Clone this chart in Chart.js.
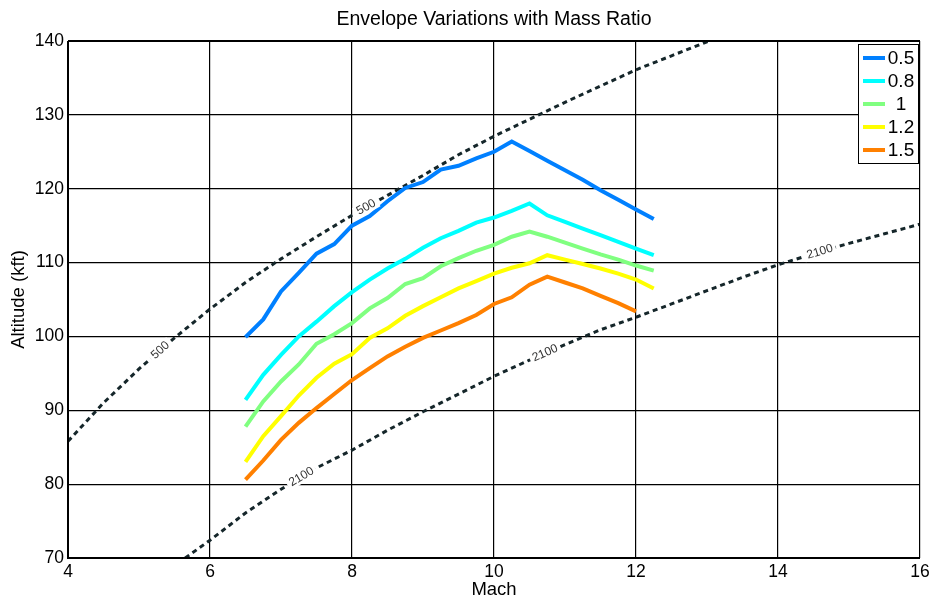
<!DOCTYPE html>
<html><head><meta charset="utf-8">
<script src="https://cdn.jsdelivr.net/npm/chart.js@4/dist/chart.umd.min.js"></script>
<style>html,body{margin:0;padding:0;background:#fff;}#wrap{width:935px;height:602px;}</style>
</head><body><div id="wrap"><canvas id="c" width="935" height="602"></canvas></div>
<script>
// ---- data ----
const machs = [6.5,6.75,7,7.25,7.5,7.75,8,8.25,8.5,8.75,9,9.25,9.5,9.75,10,10.25,10.5,10.75,11,11.25,11.5,11.75,12,12.25];
const alt05 = [99.9,102.3,106.1,108.6,111.2,112.5,115.0,116.3,118.3,120.1,120.9,122.6,123.1,124.1,125.0,126.4,125.1,123.8,122.5,121.2,119.8,118.5,117.2,115.9];
const alt08 = [91.4,94.8,97.5,100.0,102.0,104.1,106.0,107.7,109.2,110.5,112.0,113.3,114.3,115.4,116.1,117.0,118.0,116.4,115.5,114.6,113.7,112.8,111.9,111.0];
const alt10 = [87.8,91.2,93.9,96.2,99.0,100.3,101.8,103.8,105.2,107.1,107.9,109.5,110.6,111.6,112.4,113.5,114.2,113.5,112.7,111.9,111.1,110.4,109.6,108.9];
const alt12 = [83.0,86.5,89.2,92.0,94.4,96.3,97.6,99.8,101.1,102.8,104.1,105.3,106.5,107.5,108.5,109.3,109.9,111.0,110.4,109.8,109.2,108.5,107.7,106.5];
const alt15 = [80.6,83.2,86.0,88.3,90.3,92.2,94.1,95.7,97.3,98.6,99.8,100.8,101.8,102.9,104.4,105.3,107.0,108.1,107.3,106.5,105.5,104.5,103.4,null];
const massRatios = ['0.5','0.8','1','1.2','1.5'];
const seriesColors = ['rgb(0,128,255)','rgb(0,255,255)','rgb(128,255,128)','rgb(255,255,0)','rgb(255,128,0)'];

const c500Mach = [4,4.5,5,5.5,6,6.5,7,7.5,8,8.5,9,9.5,10,10.5,11,11.5,12,12.5,13,13.05];
const c500Alt  = [85.8,91.0,95.6,99.8,103.7,107.3,110.5,113.5,116.4,119.1,121.8,124.6,127.1,129.4,131.7,133.9,136.1,138.0,139.9,140.0];
const c2100Mach = [5.65,6,6.5,7,7.5,8,8.5,9,9.5,10,10.5,11,11.5,12,12.5,13,13.5,14,14.5,15,15.5,16];
const c2100Alt  = [70,72.4,76.1,79.3,82.2,84.6,87.3,89.8,92.2,94.6,96.8,98.9,100.9,102.6,104.4,106.2,108.0,109.7,111.2,112.6,113.9,115.2];
const contourLevels = ['500','2100'];
const label500Mach = [5.3, 8.2];
const label2100Mach = [7.29, 10.72, 14.59];

const xTicks = [4,6,8,10,12,14,16];
const yTicks = [70,80,90,100,110,120,130,140];

// ---- helpers ----
const pts = (xs, ys) => xs.map((x,i)=>({x, y: ys[i]}));
function interp(xs, ys, x){
  for(let i=0;i<xs.length-1;i++){
    if(x>=xs[i] && x<=xs[i+1]){const t=(x-xs[i])/(xs[i+1]-xs[i]);return ys[i]+t*(ys[i+1]-ys[i]);}
  }
  return ys[ys.length-1];
}
const FONT = "'Liberation Sans', Arial, sans-serif";
const allSeries = [alt05, alt08, alt10, alt12, alt15];

const datasets = allSeries.map((a,i)=>({
  label: massRatios[i], data: pts(machs, a), borderColor: seriesColors[i],
  borderWidth: 4, pointRadius: 0, fill: false, tension: 0, spanGaps: false
}));
const contourStyle = {borderColor:'#15262a', borderWidth:3, borderDash:[5,4], pointRadius:0, fill:false, tension:0};
datasets.push(Object.assign({label: contourLevels[0], data: pts(c500Mach, c500Alt)}, contourStyle));
datasets.push(Object.assign({label: contourLevels[1], data: pts(c2100Mach, c2100Alt)}, contourStyle));

const decor = {
  id: 'decor',
  afterDatasetsDraw(chart){
    const ctx = chart.ctx, xs = chart.scales.x, ys = chart.scales.y;
    ctx.save();
    const ca = chart.chartArea;
    ctx.beginPath(); ctx.rect(ca.left, ca.top, ca.right-ca.left, ca.bottom-ca.top); ctx.clip();
    const drawLabels = (mList, cx, cy, txt) => {
      mList.forEach(m=>{
        const px = xs.getPixelForValue(m), py = ys.getPixelForValue(interp(cx, cy, m));
        const p1x = xs.getPixelForValue(m-0.2), p1y = ys.getPixelForValue(interp(cx, cy, m-0.2));
        const p2x = xs.getPixelForValue(m+0.2), p2y = ys.getPixelForValue(interp(cx, cy, m+0.2));
        const ang = Math.atan2(p2y-p1y, p2x-p1x);
        ctx.save();
        ctx.translate(px, py); ctx.rotate(ang);
        ctx.font = '12px ' + FONT;
        const w = ctx.measureText(txt).width;
        ctx.fillStyle = '#fff';
        ctx.fillRect(-w/2-3, -6, w+6, 12);
        ctx.fillStyle = '#333';
        ctx.textAlign = 'center'; ctx.textBaseline = 'middle';
        ctx.fillText(txt, 0, 0);
        ctx.restore();
      });
    };
    drawLabels(label500Mach, c500Mach, c500Alt, contourLevels[0]);
    drawLabels(label2100Mach, c2100Mach, c2100Alt, contourLevels[1]);
    ctx.restore();
  },
  afterDraw(chart){
    const ctx = chart.ctx, ca = chart.chartArea;
    ctx.save();
    // frame
    ctx.strokeStyle = '#000'; ctx.lineWidth = 1;
    ctx.strokeRect(ca.left+0.5, ca.top+0.5, ca.right-ca.left-1, ca.bottom-ca.top);
    ctx.lineWidth = 2;
    ctx.beginPath(); ctx.moveTo(ca.left, ca.top); ctx.lineTo(ca.left, ca.bottom); ctx.lineTo(ca.right, ca.bottom); ctx.stroke();
    // title
    ctx.fillStyle = '#000'; ctx.font = '19.5px ' + FONT; ctx.textAlign = 'center'; ctx.textBaseline = 'alphabetic';
    ctx.fillText('Envelope Variations with Mass Ratio', (ca.left+ca.right)/2, 25);
    // legend
    const bx = ca.right - 62, by = ca.top + 3, bw = 60, bh = 119;
    ctx.fillStyle = '#fff'; ctx.fillRect(bx, by, bw, bh);
    ctx.strokeStyle = '#000'; ctx.lineWidth = 1; ctx.strokeRect(bx+0.5, by+0.5, bw, bh);
    ctx.font = '19px ' + FONT; ctx.textBaseline = 'middle'; ctx.textAlign = 'center';
    massRatios.forEach((lab,i)=>{
      const y = by + 14 + i*23;
      ctx.strokeStyle = seriesColors[i]; ctx.lineWidth = 4;
      ctx.beginPath(); ctx.moveTo(bx+5, y); ctx.lineTo(bx+27, y); ctx.stroke();
      ctx.fillStyle = '#000'; ctx.fillText(lab, bx+43, y+1);
    });
    ctx.restore();
  }
};

new Chart(document.getElementById('c'), {
  type: 'line',
  data: { datasets },
  options: {
    responsive: false, animation: false, events: [],
    layout: { padding: { top: 41, right: 15, left: 0, bottom: 0 } },
    plugins: { legend: {display:false}, title: {display:false}, tooltip: {enabled:false} },
    scales: {
      x: {
        type: 'linear', min: 4, max: 16,
        afterBuildTicks: s => { s.ticks = xTicks.map(v=>({value:v})); },
        afterFit: s => { s.height = 44; },
        grid: { color: '#000', lineWidth: 1.2, drawTicks: false },
        border: { display: false },
        ticks: { color: '#000', font: { family: FONT, size: 17.5 }, padding: 4, maxRotation: 0 },
        title: { display: true, text: 'Mach', color: '#000', font: { family: FONT, size: 18.5 }, padding: { top: 0, bottom: 1 } }
      },
      y: {
        type: 'linear', min: 70, max: 140,
        afterBuildTicks: s => { s.ticks = yTicks.map(v=>({value:v})); },
        afterFit: s => { s.width = 68; },
        grid: { color: '#000', lineWidth: 1.2, drawTicks: false },
        border: { display: false },
        ticks: { color: '#000', font: { family: FONT, size: 17.5 }, padding: 4 },
        title: { display: true, text: 'Altitude (kft)', color: '#000', font: { family: FONT, size: 18.5 }, padding: { top: 8, bottom: 0 } }
      }
    }
  },
  plugins: [decor]
});
</script></body></html>
